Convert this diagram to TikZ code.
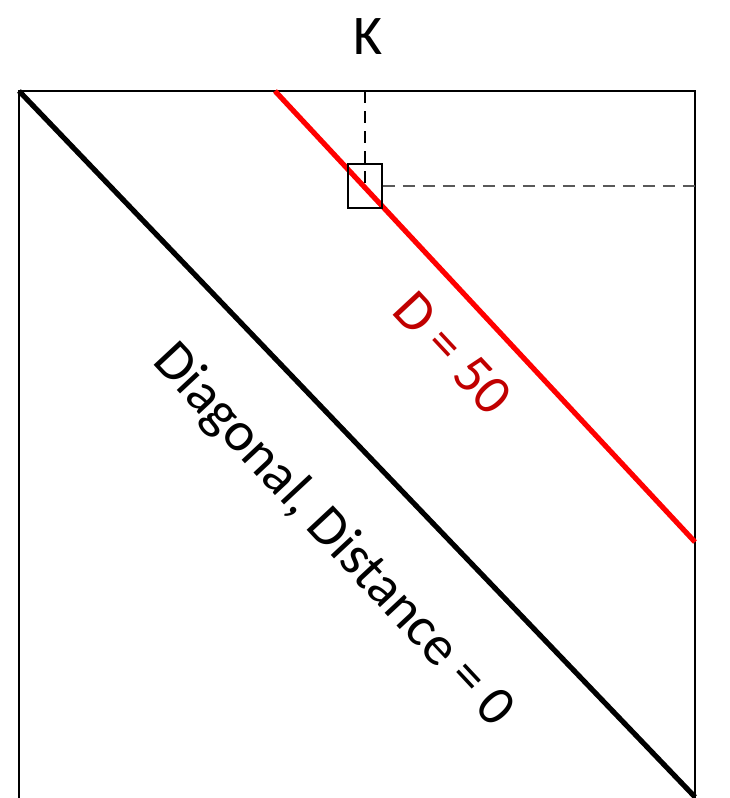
\documentclass[tikz,border=0pt]{standalone}
\usepackage{fontspec}
\setmainfont{Carlito}
\usepackage{tikz}
\definecolor{darkred}{RGB}{192,0,0}
\tikzset{
  mapframe/.style={draw, line width=1pt},
  mainline/.style={draw, line width=2.6pt},
  offline/.style={draw, red, line width=2.6pt},
  guide/.style={draw, line width=0.9pt, dash pattern=on 6pt off 4pt},
  cellbox/.style={rectangle, draw, line width=0.8pt, minimum width=17pt,
                  minimum height=22pt, inner sep=0pt},
  maplabel/.style={font=\fontsize{28}{33}\selectfont, inner sep=0pt}
}

\begin{document}
\begin{tikzpicture}[x=0.5pt, y=-0.5pt]
  \useasboundingbox (0,0) rectangle (729,798);
  % corners of the map
  \coordinate (nw) at (19,91);
  \coordinate (ne) at (695,91);
  \coordinate (se) at (695,801);
  \draw[mapframe] (nw) rectangle (se);
  % the diagonal and the line at distance 50
  \coordinate (diagend) at (695,797);
  \draw[mainline] (nw) -- (diagend);
  \coordinate (redtop) at (275,91);
  \coordinate (redend) at (695,542);
  \draw[offline] (redtop) -- (redend);
  % the cell on the red line, and its guides to the edges
  \node[cellbox] (cell) at (365,186) {};
  \coordinate (ktop) at (365,91);
  \coordinate (kright) at (695,186);
  \draw[guide] (ktop) -- (cell.center);
  \draw[guide, black!65] (cell.east) -- (kright);
  \node[maplabel] (k) at (368,37) {K};
  % labels along the lines
  \node[maplabel, text=darkred, rotate=-47] (dlabel) at (453,353) {D = 50};
  \node[maplabel, rotate=-47] (diaglabel) at (333,536) {Diagonal, Distance = 0};
\end{tikzpicture}
\end{document}
